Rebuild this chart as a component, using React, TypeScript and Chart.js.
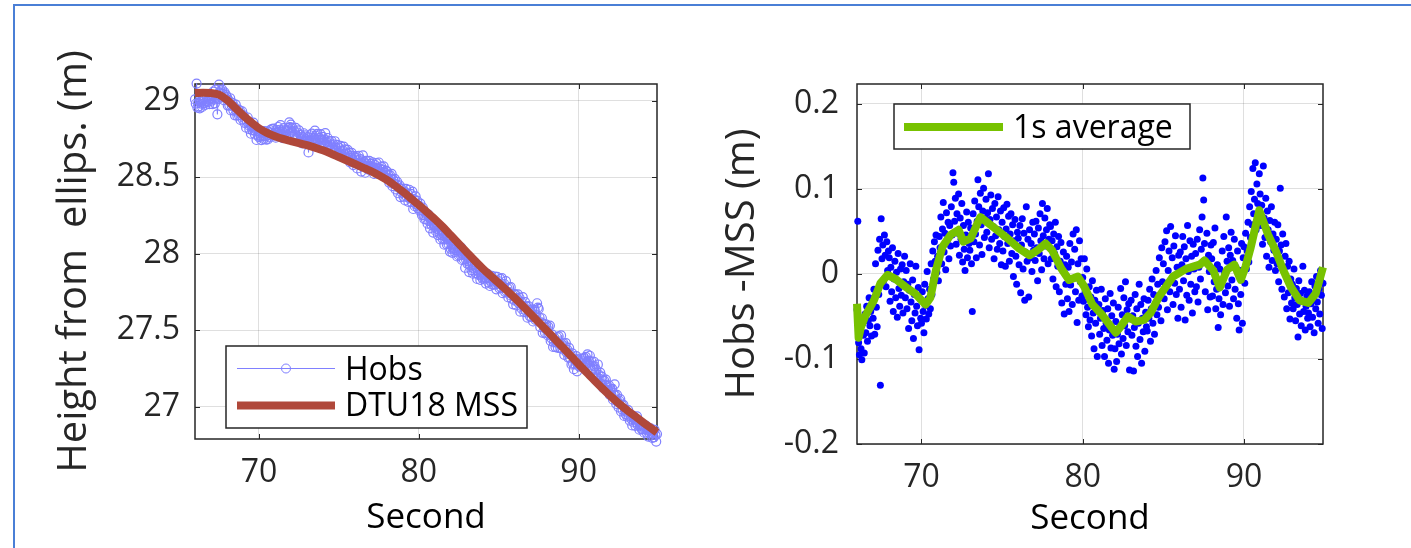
import React, { useEffect, useRef } from 'react';
import { Chart, registerables } from 'chart.js';

Chart.register(...registerables);
Chart.defaults.font.family = "'Open Sans', 'Noto Sans', sans-serif";

// ---------------- data ----------------
const X_TICKS = [70, 80, 90];
const X_TICK_LABELS = ['70', '80', '90'];
const HEIGHT_TICKS = [27, 27.5, 28, 28.5, 29];
const HEIGHT_TICK_LABELS = ['27', '27.5', '28', '28.5', '29'];
const DIFF_TICKS = [-0.2, -0.1, 0, 0.1, 0.2];
const DIFF_TICK_LABELS = ['-0.2', '-0.1', '0', '0.1', '0.2'];

const X_MIN = 66;
const X_MAX = 94.9;
const HEIGHT_MIN = 26.789;
const HEIGHT_MAX = 29.109;
const DIFF_MIN = -0.2;
const DIFF_MAX = 0.2235;

// DTU18 MSS (m)
const MSS_T = [66, 66.5, 67, 67.5, 68, 68.5, 69, 69.5, 70, 70.5, 71, 71.5, 72, 72.5, 73, 73.5, 74, 74.5, 75, 75.5,
  76, 76.5, 77, 77.5, 78, 78.5, 79, 79.5, 80, 80.5, 81, 81.5, 82, 82.5, 83, 83.5, 84, 84.5, 85, 85.5,
  86, 86.5, 87, 87.5, 88, 88.5, 89, 89.5, 90, 90.5, 91, 91.5, 92, 92.5, 93, 93.5, 94, 94.5, 94.9];
const MSS_V = [29.050, 29.052, 29.050, 29.040, 29.005, 28.955, 28.905, 28.860, 28.820, 28.790,
  28.768, 28.750, 28.736, 28.723, 28.709, 28.693, 28.676, 28.655, 28.632, 28.609,
  28.586, 28.563, 28.540, 28.513, 28.482, 28.445, 28.405, 28.362, 28.318, 28.273,
  28.226, 28.175, 28.120, 28.065, 28.010, 27.955, 27.903, 27.855, 27.808, 27.760,
  27.711, 27.659, 27.606, 27.552, 27.498, 27.443, 27.388, 27.333, 27.278, 27.223,
  27.170, 27.118, 27.068, 27.022, 26.980, 26.940, 26.900, 26.862, 26.832];

// Hobs (m), sampled every 0.05 s from 66 s (one row per second)
const HOBS_T0 = 66;
const HOBS_DT = 0.05;
const HOBS_V = [
  29.008, 28.980, 29.112, 28.955, 28.985, 28.963, 28.950, 28.993, 28.980, 28.959, 29.005, 28.983, 29.014, 28.972, 28.996, 29.023, 28.990, 29.007, 28.978, 29.017,
  28.998, 29.031, 28.977, 29.059, 29.007, 28.983, 29.072, 29.019, 28.911, 29.011, 29.105, 29.055, 29.067, 29.022, 29.072, 29.045, 29.004, 29.054, 29.016, 29.036,
  29.024, 28.968, 29.003, 28.969, 29.016, 28.936, 28.969, 28.985, 28.937, 28.962, 28.904, 28.974, 28.928, 28.902, 28.941, 28.905, 28.936, 28.874, 28.906, 28.931,
  28.877, 28.904, 28.855, 28.879, 28.823, 28.863, 28.890, 28.840, 28.814, 28.857, 28.784, 28.832, 28.806, 28.857, 28.806, 28.779, 28.820, 28.743, 28.799, 28.772,
  28.762, 28.796, 28.770, 28.742, 28.796, 28.768, 28.749, 28.802, 28.767, 28.746, 28.772, 28.747, 28.798, 28.760, 28.808, 28.773, 28.815, 28.790, 28.818, 28.772,
  28.789, 28.758, 28.808, 28.794, 28.828, 28.771, 28.810, 28.840, 28.780, 28.800, 28.755, 28.821, 28.786, 28.807, 28.762, 28.800, 28.775, 28.820, 28.858, 28.828,
  28.844, 28.797, 28.822, 28.767, 28.802, 28.778, 28.822, 28.749, 28.792, 28.766, 28.806, 28.736, 28.777, 28.748, 28.721, 28.762, 28.787, 28.732, 28.773, 28.747,
  28.737, 28.762, 28.662, 28.735, 28.774, 28.739, 28.785, 28.745, 28.715, 28.757, 28.804, 28.771, 28.724, 28.783, 28.744, 28.708, 28.757, 28.782, 28.722, 28.744,
  28.764, 28.723, 28.744, 28.788, 28.699, 28.730, 28.756, 28.702, 28.736, 28.713, 28.673, 28.736, 28.695, 28.715, 28.675, 28.735, 28.693, 28.675, 28.711, 28.646,
  28.693, 28.657, 28.705, 28.669, 28.632, 28.674, 28.700, 28.652, 28.682, 28.627, 28.656, 28.678, 28.628, 28.660, 28.597, 28.637, 28.659, 28.614, 28.579, 28.638,
  28.628, 28.595, 28.638, 28.557, 28.611, 28.640, 28.578, 28.618, 28.537, 28.592, 28.642, 28.576, 28.599, 28.529, 28.606, 28.571, 28.585, 28.550, 28.606, 28.571,
  28.587, 28.554, 28.597, 28.563, 28.521, 28.581, 28.548, 28.592, 28.557, 28.521, 28.596, 28.555, 28.525, 28.570, 28.534, 28.550, 28.571, 28.503, 28.529, 28.543,
  28.538, 28.497, 28.514, 28.465, 28.514, 28.488, 28.521, 28.441, 28.484, 28.458, 28.489, 28.420, 28.452, 28.470, 28.395, 28.430, 28.447, 28.370, 28.424, 28.397,
  28.426, 28.372, 28.404, 28.348, 28.424, 28.371, 28.393, 28.339, 28.418, 28.362, 28.391, 28.337, 28.405, 28.292, 28.357, 28.310, 28.375, 28.323, 28.345, 28.297,
  28.314, 28.282, 28.327, 28.284, 28.252, 28.302, 28.252, 28.225, 28.267, 28.224, 28.246, 28.196, 28.256, 28.213, 28.166, 28.219, 28.187, 28.221, 28.138, 28.189,
  28.190, 28.150, 28.164, 28.193, 28.122, 28.158, 28.131, 28.093, 28.156, 28.122, 28.097, 28.129, 28.059, 28.093, 28.130, 28.061, 28.093, 28.065, 28.097, 28.014,
  28.032, 28.059, 28.006, 28.033, 28.059, 28.011, 28.025, 28.065, 27.982, 28.023, 27.989, 28.032, 27.993, 28.040, 27.959, 27.996, 27.964, 27.992, 27.908, 27.963,
  27.979, 27.933, 27.950, 27.880, 27.925, 27.959, 27.892, 27.931, 27.869, 27.903, 27.943, 27.873, 27.909, 27.835, 27.882, 27.861, 27.895, 27.828, 27.868, 27.846,
  27.836, 27.867, 27.841, 27.871, 27.805, 27.838, 27.868, 27.812, 27.841, 27.789, 27.820, 27.855, 27.798, 27.829, 27.797, 27.851, 27.800, 27.767, 27.848, 27.804,
  27.820, 27.774, 27.836, 27.780, 27.840, 27.742, 27.783, 27.802, 27.749, 27.821, 27.753, 27.774, 27.714, 27.779, 27.730, 27.781, 27.707, 27.734, 27.669, 27.738,
  27.693, 27.732, 27.662, 27.707, 27.734, 27.677, 27.712, 27.621, 27.687, 27.639, 27.716, 27.657, 27.618, 27.683, 27.626, 27.654, 27.582, 27.658, 27.623, 27.591,
  27.630, 27.586, 27.636, 27.557, 27.592, 27.631, 27.568, 27.598, 27.676, 27.648, 27.639, 27.583, 27.520, 27.551, 27.578, 27.483, 27.542, 27.518, 27.482, 27.538,
  27.516, 27.467, 27.524, 27.473, 27.530, 27.430, 27.447, 27.471, 27.391, 27.420, 27.449, 27.390, 27.421, 27.454, 27.385, 27.460, 27.412, 27.383, 27.466, 27.409,
  27.374, 27.414, 27.339, 27.394, 27.415, 27.354, 27.371, 27.321, 27.385, 27.321, 27.341, 27.276, 27.349, 27.282, 27.245, 27.310, 27.276, 27.331, 27.231, 27.303,
  27.310, 27.262, 27.315, 27.268, 27.283, 27.312, 27.259, 27.319, 27.277, 27.326, 27.281, 27.342, 27.283, 27.295, 27.333, 27.249, 27.297, 27.269, 27.248, 27.294,
  27.264, 27.222, 27.241, 27.190, 27.276, 27.210, 27.182, 27.223, 27.149, 27.197, 27.170, 27.121, 27.171, 27.141, 27.177, 27.109, 27.135, 27.111, 27.139, 27.077,
  27.109, 27.076, 27.117, 27.046, 27.077, 27.146, 27.074, 27.018, 27.078, 27.032, 26.995, 27.039, 27.050, 26.969, 27.014, 26.979, 27.012, 26.940, 26.982, 26.950,
  26.968, 26.935, 26.978, 26.940, 26.909, 26.943, 26.920, 26.878, 26.940, 26.897, 26.917, 26.875, 26.900, 26.937, 26.880, 26.901, 26.850, 26.874, 26.882, 26.852,
  26.854, 26.875, 26.830, 26.854, 26.876, 26.830, 26.849, 26.805, 26.856, 26.825, 26.859, 26.826, 26.797, 26.833, 26.800, 26.848, 26.815, 26.772, 26.821, 26.849,
];

// Hobs - MSS (m), sampled every 0.05 s from 66 s (one row per second)
const DIFF_T0 = 66;
const DIFF_DT = 0.05;
const DIFF_V = [
  -0.042, 0.062, -0.081, -0.095, -0.066, -0.088, -0.101, -0.058, -0.072, -0.093, -0.047, -0.069, -0.038, -0.079, -0.055, -0.028, -0.061, -0.044, -0.073, -0.033,
  -0.052, -0.018, -0.071, 0.012, -0.039, -0.062, 0.028, -0.024, 0.041, -0.131, 0.065, 0.018, 0.034, -0.008, 0.046, 0.022, -0.015, 0.038, 0.004, 0.027,
  0.019, -0.032, 0.008, -0.021, 0.031, -0.044, -0.006, 0.015, -0.028, 0.002, -0.051, 0.024, -0.017, -0.038, 0.006, -0.025, 0.011, -0.046, -0.009, 0.021,
  -0.028, 0.004, -0.041, -0.012, -0.064, -0.019, 0.012, -0.033, -0.055, -0.007, -0.076, -0.024, -0.046, 0.009, -0.038, -0.061, -0.016, -0.089, -0.029, -0.052,
  -0.058, -0.021, -0.044, -0.069, -0.012, -0.037, -0.053, 0.003, -0.029, -0.047, -0.018, -0.041, 0.012, -0.024, 0.027, -0.006, 0.038, 0.015, 0.046, 0.002,
  0.021, -0.008, 0.044, 0.031, 0.067, 0.012, 0.053, 0.084, 0.026, 0.048, 0.005, 0.072, 0.039, 0.061, 0.018, 0.057, 0.033, 0.079, 0.046, 0.119,
  0.108, 0.062, 0.089, 0.035, 0.071, 0.048, 0.094, 0.022, 0.066, 0.041, 0.083, 0.014, 0.057, 0.029, 0.004, 0.046, 0.073, 0.019, 0.061, 0.036,
  0.028, 0.054, 0.012, -0.044, 0.071, 0.038, 0.086, 0.047, 0.019, 0.062, 0.111, 0.079, 0.034, 0.095, 0.058, 0.023, 0.074, 0.101, 0.043, 0.066,
  0.088, 0.049, 0.072, 0.118, 0.031, 0.064, 0.093, 0.041, 0.077, 0.056, 0.018, 0.083, 0.045, 0.067, 0.029, 0.091, 0.052, 0.036, 0.074, 0.011,
  0.061, 0.027, 0.078, 0.044, 0.009, 0.053, 0.082, 0.036, 0.068, 0.015, 0.047, 0.071, 0.024, 0.058, -0.003, 0.039, 0.064, 0.021, -0.012, 0.049,
  0.042, 0.011, 0.057, -0.022, 0.034, 0.065, 0.006, 0.048, -0.031, 0.026, 0.079, 0.015, 0.041, -0.027, 0.052, 0.019, 0.036, 0.003, 0.061, 0.028,
  0.047, 0.016, 0.062, 0.031, -0.008, 0.054, 0.024, 0.071, 0.039, 0.005, 0.083, 0.045, 0.018, 0.066, 0.033, 0.052, 0.077, 0.012, 0.041, 0.058,
  0.056, 0.018, 0.039, -0.006, 0.047, 0.024, 0.061, -0.015, 0.032, 0.009, 0.044, -0.021, 0.015, 0.037, -0.034, 0.005, 0.026, -0.047, 0.011, -0.012,
  0.021, -0.029, 0.008, -0.044, 0.036, -0.013, 0.014, -0.036, 0.047, -0.005, 0.029, -0.021, 0.052, -0.057, 0.012, -0.031, 0.039, -0.009, 0.018, -0.026,
  -0.004, -0.032, 0.018, -0.021, -0.048, 0.006, -0.039, -0.062, -0.015, -0.054, -0.027, -0.073, -0.008, -0.046, -0.088, -0.031, -0.058, -0.019, -0.097, -0.042,
  -0.036, -0.071, -0.052, -0.018, -0.084, -0.043, -0.064, -0.097, -0.029, -0.058, -0.078, -0.041, -0.105, -0.066, -0.023, -0.087, -0.049, -0.072, -0.034, -0.112,
  -0.088, -0.056, -0.103, -0.071, -0.039, -0.082, -0.062, -0.017, -0.094, -0.048, -0.076, -0.028, -0.061, -0.009, -0.084, -0.042, -0.068, -0.035, -0.113, -0.053,
  -0.031, -0.072, -0.049, -0.114, -0.063, -0.024, -0.085, -0.041, -0.097, -0.058, -0.012, -0.077, -0.036, -0.105, -0.052, -0.068, -0.029, -0.091, -0.045, -0.062,
  -0.067, -0.031, -0.052, -0.018, -0.079, -0.041, -0.006, -0.058, -0.024, -0.071, -0.035, 0.004, -0.048, -0.012, -0.039, 0.019, -0.027, -0.055, 0.031, -0.009,
  0.012, -0.029, 0.038, -0.014, 0.051, -0.042, 0.004, 0.027, -0.021, 0.056, -0.007, 0.019, -0.036, 0.033, -0.011, 0.045, -0.024, 0.008, -0.052, 0.022,
  -0.018, 0.026, -0.039, 0.011, 0.044, -0.008, 0.032, -0.054, 0.018, -0.025, 0.057, 0.003, -0.031, 0.039, -0.012, 0.021, -0.046, 0.035, 0.006, -0.021,
  0.024, -0.015, 0.041, -0.033, 0.008, 0.052, -0.006, 0.029, 0.067, 0.113, 0.087, 0.036, -0.021, 0.015, 0.048, -0.042, 0.022, 0.003, -0.027, 0.034,
  0.018, -0.026, 0.037, -0.009, 0.054, -0.041, -0.018, 0.011, -0.063, -0.029, 0.006, -0.048, -0.011, 0.027, -0.036, 0.044, 0.002, -0.022, 0.067, 0.015,
  -0.014, 0.031, -0.038, 0.022, 0.049, -0.007, 0.016, -0.029, 0.041, -0.018, 0.008, -0.052, 0.027, -0.035, -0.066, 0.004, -0.024, 0.036, -0.058, 0.019,
  0.032, -0.011, 0.048, 0.006, 0.027, 0.061, 0.014, 0.079, 0.043, 0.097, 0.058, 0.124, 0.071, 0.088, 0.131, 0.052, 0.106, 0.083, 0.067, 0.118,
  0.094, 0.057, 0.081, 0.035, 0.127, 0.066, 0.043, 0.089, 0.021, 0.074, 0.052, 0.008, 0.063, 0.038, 0.079, 0.016, 0.047, 0.028, 0.061, 0.004,
  0.041, 0.012, 0.058, -0.009, 0.027, 0.101, 0.034, -0.018, 0.047, 0.005, -0.027, 0.021, 0.036, -0.041, 0.009, -0.022, 0.015, -0.053, -0.006, -0.034,
  -0.012, -0.041, 0.006, -0.028, -0.055, -0.017, -0.036, -0.074, -0.008, -0.047, -0.023, -0.061, -0.032, 0.009, -0.044, -0.019, -0.066, -0.038, -0.026, -0.052,
  -0.046, -0.021, -0.062, -0.035, -0.009, -0.051, -0.028, -0.069, -0.014, -0.041, -0.003, -0.033, -0.058, -0.018, -0.047, 0.004, -0.025, -0.064, -0.011, 0.019,
];

// 1 s average (m)
const AVG_T = [66.00, 66.10, 66.25, 66.50, 67.05, 67.45, 67.90, 68.40, 69.00, 69.60,
  70.25, 70.55, 70.90, 71.30, 71.80, 72.30, 72.60, 73.05, 73.65, 74.40,
  75.20, 76.05, 76.70, 77.20, 77.70, 78.10, 78.65, 79.15, 79.70, 80.10,
  80.60, 81.20, 81.75, 82.05, 82.35, 82.80, 83.30, 83.80, 84.20, 84.75,
  85.60, 86.40, 87.25, 87.55, 88.10, 88.50, 88.95, 89.40, 89.80, 90.10,
  90.40, 90.95, 91.50, 92.00, 92.40, 92.90, 93.45, 94.00, 94.45, 94.90];
const AVG_V = [-0.035, -0.075, -0.062, -0.050, -0.031, -0.011, -0.001, -0.006, -0.015, -0.023,
  -0.036, -0.028, 0.005, 0.032, 0.046, 0.052, 0.038, 0.042, 0.067, 0.056,
  0.044, 0.030, 0.022, 0.028, 0.036, 0.028, 0.007, -0.007, -0.003, -0.015,
  -0.036, -0.048, -0.062, -0.069, -0.062, -0.050, -0.056, -0.054, -0.046, -0.026,
  -0.003, 0.006, 0.011, 0.016, 0.004, -0.016, 0.005, 0.011, -0.007, 0.009,
  0.030, 0.075, 0.046, 0.026, 0.006, -0.015, -0.031, -0.034, -0.023, 0.008];

// ---------------- styling ----------------
const TEXT = '#262626';
const GRID = 'rgba(38,38,38,0.15)';
const HOBS_COLOR = '#8080ff';
const MSS_COLOR = '#b0483a';
const DOT_COLOR = '#0000ff';
const AVG_COLOR = '#77c200';

const framePlugin = {
  id: 'matlabFrame',
  beforeDatasetsDraw(chart: any) {
    const { ctx, chartArea: a } = chart;
    const xs = chart.scales.x;
    const ys = chart.scales.y;
    const tl = 5;
    ctx.save();
    ctx.strokeStyle = TEXT;
    ctx.lineWidth = 1;
    ctx.beginPath();
    xs.ticks.forEach((t: any) => {
      const p = Math.round(xs.getPixelForValue(t.value)) + 0.5;
      ctx.moveTo(p, a.bottom); ctx.lineTo(p, a.bottom - tl);
      ctx.moveTo(p, a.top); ctx.lineTo(p, a.top + tl);
    });
    ys.ticks.forEach((t: any) => {
      const p = Math.round(ys.getPixelForValue(t.value)) + 0.5;
      ctx.moveTo(a.left, p); ctx.lineTo(a.left + tl, p);
      ctx.moveTo(a.right, p); ctx.lineTo(a.right - tl, p);
    });
    ctx.stroke();
    ctx.lineWidth = 1.5;
    ctx.strokeRect(a.left, a.top, a.right - a.left, a.bottom - a.top);
    ctx.restore();
  },
};

type LegendItem = { dataset: number; x0: number; x1: number; y: number; width: number; marker?: boolean; tx: number; ty: number };

function makeLegend(box: number[], items: LegendItem[]) {
  return {
    id: 'boxLegend',
    afterDatasetsDraw(chart: any) {
      const { ctx } = chart;
      const [x0, y0, x1, y1] = box;
      ctx.save();
      ctx.fillStyle = '#ffffff';
      ctx.fillRect(x0, y0, x1 - x0, y1 - y0);
      ctx.strokeStyle = TEXT;
      ctx.lineWidth = 1.5;
      ctx.strokeRect(x0, y0, x1 - x0, y1 - y0);
      items.forEach((it) => {
        const ds: any = chart.data.datasets[it.dataset];
        ctx.strokeStyle = ds.borderColor;
        ctx.lineWidth = it.width;
        ctx.lineCap = 'butt';
        ctx.beginPath();
        ctx.moveTo(it.x0, it.y);
        ctx.lineTo(it.x1, it.y);
        ctx.stroke();
        if (it.marker) {
          ctx.lineWidth = 1;
          ctx.strokeStyle = ds.pointBorderColor;
          ctx.beginPath();
          ctx.arc((it.x0 + it.x1) / 2, it.y, ds.pointRadius, 0, Math.PI * 2);
          ctx.stroke();
        }
        ctx.fillStyle = '#000000';
        ctx.font = "32px 'Open Sans'";
        ctx.textAlign = 'left';
        ctx.textBaseline = 'alphabetic';
        ctx.fillText(ds.label, it.tx, it.ty);
      });
      ctx.restore();
    },
  };
}

function xAxis(height: number, titlePad: number) {
  return {
    type: 'linear',
    min: X_MIN,
    max: X_MAX,
    afterFit: (s: any) => { s.height = height; },
    afterBuildTicks: (s: any) => { s.ticks = X_TICKS.map((v) => ({ value: v })); },
    ticks: {
      callback: (_v: any, i: number) => X_TICK_LABELS[i],
      font: { size: 32 },
      color: TEXT,
      padding: 15,
      maxRotation: 0,
      autoSkip: false,
    },
    grid: { color: GRID, drawTicks: false, lineWidth: 1 },
    border: { display: false },
    title: { display: true, text: 'Second', font: { size: 35 }, color: '#000000', padding: { top: 0, bottom: titlePad } },
  };
}

function yAxis(width: number, min: number, max: number, ticks: number[], labels: string[], title: string, titlePad: number, labelPad: number) {
  return {
    type: 'linear',
    min,
    max,
    afterFit: (s: any) => { s.width = width; },
    afterBuildTicks: (s: any) => { s.ticks = ticks.map((v) => ({ value: v })); },
    ticks: {
      callback: (_v: any, i: number) => labels[i],
      font: { size: 32 },
      color: TEXT,
      padding: labelPad,
      autoSkip: false,
    },
    grid: { color: GRID, drawTicks: false, lineWidth: 1 },
    border: { display: false },
    title: { display: true, text: title, font: { size: 40 }, color: TEXT, padding: { top: titlePad, bottom: 0 } },
  };
}

function buildHeightChart() {
  const mss = MSS_T.map((t, i) => ({ x: t, y: MSS_V[i] }));
  const hobs = HOBS_V.map((v, i) => ({ x: HOBS_T0 + i * HOBS_DT, y: v }));
  return {
    type: 'line',
    data: {
      datasets: [
        {
          label: 'DTU18 MSS',
          data: mss,
          borderColor: MSS_COLOR,
          borderWidth: 8,
          pointRadius: 0,
          tension: 0.4,
          cubicInterpolationMode: 'monotone',
          order: 0,
          clip: false,
        },
        {
          label: 'Hobs',
          data: hobs,
          borderColor: HOBS_COLOR,
          borderWidth: 1,
          pointRadius: 4.5,
          pointBorderWidth: 1.2,
          pointBorderColor: HOBS_COLOR,
          pointBackgroundColor: 'rgba(0,0,0,0)',
          tension: 0,
          order: 1,
          clip: false,
        },
      ],
    },
    options: {
      responsive: false,
      maintainAspectRatio: false,
      animation: false,
      devicePixelRatio: 1,
      events: [],
      layout: { padding: { left: 0, right: 43, top: 84, bottom: 0 } },
      plugins: { legend: { display: false }, tooltip: { enabled: false } },
      scales: {
        x: xAxis(109, 9),
        y: yAxis(195, HEIGHT_MIN, HEIGHT_MAX, HEIGHT_TICKS, HEIGHT_TICK_LABELS, 'Height from  ellips. (m)', 51, 15),
      },
    },
    plugins: [
      framePlugin,
      makeLegend([226, 346, 527, 428], [
        { dataset: 1, x0: 237, x1: 335, y: 368.5, width: 1, marker: true, tx: 345, ty: 380 },
        { dataset: 0, x0: 237, x1: 335, y: 405.5, width: 8, tx: 345, ty: 416 },
      ]),
    ],
  };
}

function buildDiffChart() {
  const dots = DIFF_V.map((v, i) => ({ x: DIFF_T0 + i * DIFF_DT, y: v }));
  const avg = AVG_T.map((t, i) => ({ x: t, y: AVG_V[i] }));
  return {
    type: 'line',
    data: {
      datasets: [
        {
          label: '1s average',
          data: avg,
          borderColor: AVG_COLOR,
          borderWidth: 8,
          borderJoinStyle: 'round',
          pointRadius: 0,
          tension: 0,
          order: 0,
          clip: false,
        },
        {
          label: 'Hobs -MSS',
          data: dots,
          showLine: false,
          borderColor: DOT_COLOR,
          backgroundColor: DOT_COLOR,
          pointRadius: 3.5,
          pointBorderWidth: 0,
          pointBackgroundColor: DOT_COLOR,
          order: 1,
          clip: false,
        },
      ],
    },
    options: {
      responsive: false,
      maintainAspectRatio: false,
      animation: false,
      devicePixelRatio: 1,
      events: [],
      layout: { padding: { left: 0, right: 88, top: 84, bottom: 0 } },
      plugins: { legend: { display: false }, tooltip: { enabled: false } },
      scales: {
        x: xAxis(104, 8),
        y: yAxis(157, DIFF_MIN, DIFF_MAX, DIFF_TICKS, DIFF_TICK_LABELS, 'Hobs -MSS (m)', 19, 18),
      },
    },
    plugins: [
      framePlugin,
      makeLegend([194, 104, 490, 149], [
        { dataset: 0, x0: 204, x1: 303, y: 127, width: 8, tx: 313, ty: 137.5 },
      ]),
    ],
  };
}

function Panel({ left, width, build }: { left: number; width: number; build: () => any }) {
  const ref = useRef<HTMLCanvasElement | null>(null);
  useEffect(() => {
    const chart = new Chart(ref.current as HTMLCanvasElement, build());
    return () => chart.destroy();
  }, []);
  return (
    <canvas
      ref={ref}
      width={width}
      height={548}
      style={{ position: 'absolute', left, top: 0, width, height: 548, display: 'block' }}
    />
  );
}

export default function App() {
  return (
    <div style={{ position: 'absolute', left: 0, top: 0, width: 1411, height: 548, background: '#ffffff', overflow: 'hidden' }}>
      <Panel left={0} width={700} build={buildHeightChart} />
      <Panel left={700} width={711} build={buildDiffChart} />
      <div style={{ position: 'absolute', left: 13, top: 4, width: 1398, height: 2, background: '#4a7fd6' }} />
      <div style={{ position: 'absolute', left: 13, top: 4, width: 2, height: 544, background: '#4a7fd6' }} />
    </div>
  );
}
